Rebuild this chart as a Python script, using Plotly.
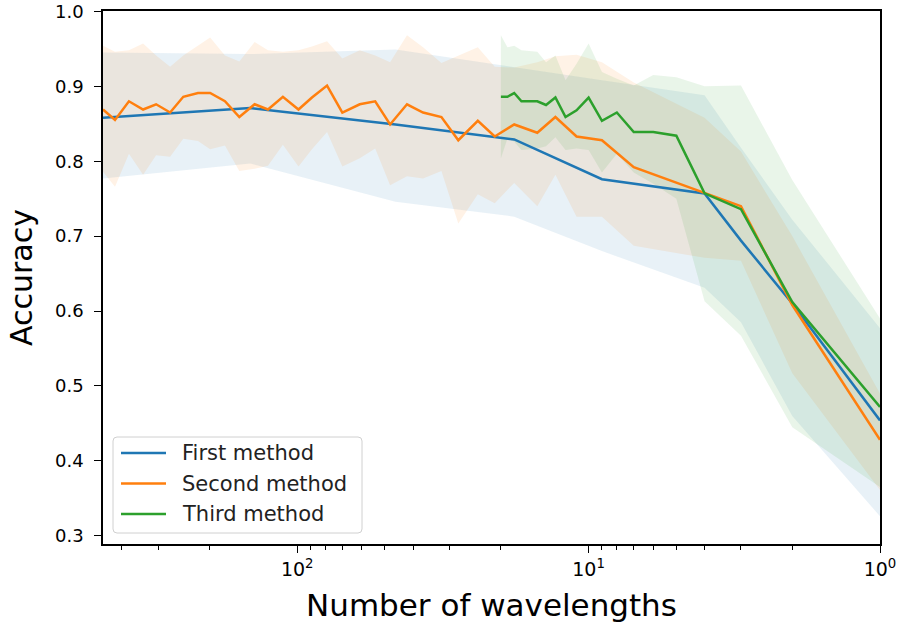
import numpy as np
import plotly.graph_objects as go

# Number of wavelengths evaluated for each method
n_first = [464, 145, 46, 18, 9, 4, 3, 2, 1]
n_second = [464, 422, 378, 338, 305, 273, 246, 219, 199, 177, 158, 140, 126, 112,
            99, 89, 79, 70, 61, 54, 48, 42, 37, 32, 28, 24, 21, 18, 15, 13, 11,
            9, 7, 4, 3, 2, 1]
n_third = [20, 19, 18, 17, 16, 15, 14, 13, 12, 11, 10, 9, 8, 7, 6, 5, 4, 3, 2, 1]

# Mean accuracy
acc_first = [0.858, 0.871, 0.849, 0.829, 0.776, 0.757, 0.694, 0.610, 0.454]
acc_second = [0.869, 0.855, 0.880, 0.869, 0.876, 0.865, 0.886, 0.891, 0.891, 0.880,
              0.859, 0.876, 0.869, 0.886, 0.869, 0.885, 0.901, 0.865, 0.876, 0.880,
              0.849, 0.876, 0.865, 0.859, 0.828, 0.854, 0.833, 0.849, 0.838, 0.859,
              0.833, 0.828, 0.792, 0.757, 0.740, 0.608, 0.428]
acc_third = [0.886, 0.886, 0.891, 0.880, 0.880, 0.880, 0.875, 0.885, 0.859, 0.868,
             0.885, 0.854, 0.865, 0.839, 0.839, 0.834, 0.757, 0.736, 0.612, 0.472]

# Upper / lower spread around the mean
hi_first = [0.945, 0.943, 0.949, 0.926, 0.908, 0.888, 0.818, 0.722, 0.577]
lo_first = [0.777, 0.797, 0.746, 0.726, 0.680, 0.631, 0.585, 0.460, 0.326]
hi_second = [0.954, 0.946, 0.948, 0.957, 0.941, 0.926, 0.941, 0.954, 0.965, 0.941,
             0.933, 0.959, 0.948, 0.946, 0.948, 0.953, 0.960, 0.937, 0.948, 0.941,
             0.932, 0.968, 0.952, 0.931, 0.941, 0.952, 0.926, 0.925, 0.932, 0.940,
             0.942, 0.932, 0.905, 0.858, 0.813, 0.700, 0.490]
lo_second = [0.786, 0.766, 0.810, 0.782, 0.808, 0.806, 0.830, 0.827, 0.816, 0.821,
             0.787, 0.790, 0.794, 0.822, 0.793, 0.816, 0.839, 0.793, 0.804, 0.817,
             0.768, 0.780, 0.777, 0.787, 0.717, 0.756, 0.744, 0.771, 0.740, 0.782,
             0.726, 0.726, 0.687, 0.671, 0.667, 0.517, 0.361]
hi_third = [0.968, 0.952, 0.954, 0.948, 0.947, 0.946, 0.932, 0.941, 0.908, 0.930,
            0.957, 0.919, 0.910, 0.901, 0.915, 0.912, 0.900, 0.901, 0.775, 0.590]
lo_third = [0.804, 0.830, 0.826, 0.815, 0.816, 0.817, 0.820, 0.832, 0.815, 0.817,
            0.815, 0.785, 0.810, 0.785, 0.770, 0.750, 0.613, 0.567, 0.445, 0.365]

names = ["First method", "Second method", "Third method"]
colors = ["#1f77b4", "#ff7f0e", "#2ca02c"]
fills = ["rgba(31,119,180,0.1)", "rgba(255,127,14,0.1)", "rgba(44,160,44,0.1)"]

series = [
    (n_first, acc_first, hi_first, lo_first),
    (n_second, acc_second, hi_second, lo_second),
    (n_third, acc_third, hi_third, lo_third),
]

fig = go.Figure()

# shaded spread bands
for (xs, ys, hi, lo), fc in zip(series, fills):
    fig.add_trace(go.Scatter(
        x=list(xs) + list(xs)[::-1],
        y=list(hi) + list(lo)[::-1],
        fill="toself", fillcolor=fc, mode="lines",
        line=dict(width=0), hoverinfo="skip", showlegend=False,
    ))

# mean accuracy lines
for (xs, ys, hi, lo), name, c in zip(series, names, colors):
    fig.add_trace(go.Scatter(
        x=xs, y=ys, mode="lines", name=name,
        line=dict(color=c, width=2.5), showlegend=False,
    ))

font = "DejaVu Sans, Liberation Sans, sans-serif"
minor_vals = [2, 3, 4, 5, 6, 7, 8, 9, 20, 30, 40, 50, 60, 70, 80, 90, 200, 300, 400]

W, H = 899, 625
ML, MR, MT, MB = 103, 19, 11, 81
PW, PH = W - ML - MR, H - MT - MB


def px(x):
    return (x - ML) / PW


def py(y):
    return (MT + PH - y) / PH


# legend box (rounded) in the lower-left corner of the axes
bx0, bx1, by0, by1 = px(113), px(362), py(533), py(437)
rx, ry = 4 / PW, 4 / PH
box_path = (
    f"M{bx0 + rx},{by0} L{bx1 - rx},{by0} Q{bx1},{by0} {bx1},{by0 + ry} "
    f"L{bx1},{by1 - ry} Q{bx1},{by1} {bx1 - rx},{by1} "
    f"L{bx0 + rx},{by1} Q{bx0},{by1} {bx0},{by1 - ry} "
    f"L{bx0},{by0 + ry} Q{bx0},{by0} {bx0 + rx},{by0} Z"
)
shapes = [dict(type="path", xref="paper", yref="paper", path=box_path,
               fillcolor="rgba(255,255,255,0.8)",
               line=dict(color="#d0d0d0", width=1))]
annotations = []
for i, (name, c) in enumerate(zip(names, colors)):
    row = 453 + i * 30.5
    shapes.append(dict(type="line", xref="paper", yref="paper",
                       x0=px(121), x1=px(166), y0=py(row), y1=py(row),
                       line=dict(color=c, width=2.5)))
    annotations.append(dict(xref="paper", yref="paper", x=px(180), y=py(row),
                            text=name, showarrow=False, xanchor="left",
                            yanchor="middle",
                            font=dict(size=21, color="#222222", family=font)))

fig.update_layout(
    width=W, height=H,
    margin=dict(l=ML, r=MR, t=MT, b=MB),
    paper_bgcolor="white", plot_bgcolor="white",
    font=dict(family=font, color="black", size=18),
    showlegend=False,
    shapes=shapes, annotations=annotations,
)

fig.update_xaxes(
    type="log", range=[np.log10(464), 0], automargin=False,
    tickvals=[1, 10, 100],
    ticktext=["10<sup>0</sup>", "10<sup>1</sup>", "10<sup>2</sup>"],
    tickfont=dict(size=19), ticklabeloverflow="allow",
    ticks="outside", ticklen=7, tickwidth=1.3, tickcolor="black",
    minor=dict(tickvals=minor_vals, ticks="outside", ticklen=4,
               tickwidth=1, tickcolor="black", showgrid=False),
    showline=True, linecolor="black", linewidth=1.5, mirror=True,
    showgrid=False, zeroline=False,
    title=dict(text="Number of wavelengths", font=dict(size=31), standoff=16),
)
fig.update_yaxes(
    range=[0.289, 1.0005], automargin=False,
    tickvals=[0.3, 0.4, 0.5, 0.6, 0.7, 0.8, 0.9, 1.0],
    ticktext=["0.3", "0.4", "0.5", "0.6", "0.7", "0.8", "0.9", "1.0"],
    ticklabeloverflow="allow",
    ticks="outside", ticklen=7, tickwidth=1.3, tickcolor="black",
    ticklabelstandoff=7,
    showline=True, linecolor="black", linewidth=1.5, mirror=True,
    showgrid=False, zeroline=False,
    title=dict(text="Accuracy", font=dict(size=30), standoff=14),
)

fig.write_html("out.html")
